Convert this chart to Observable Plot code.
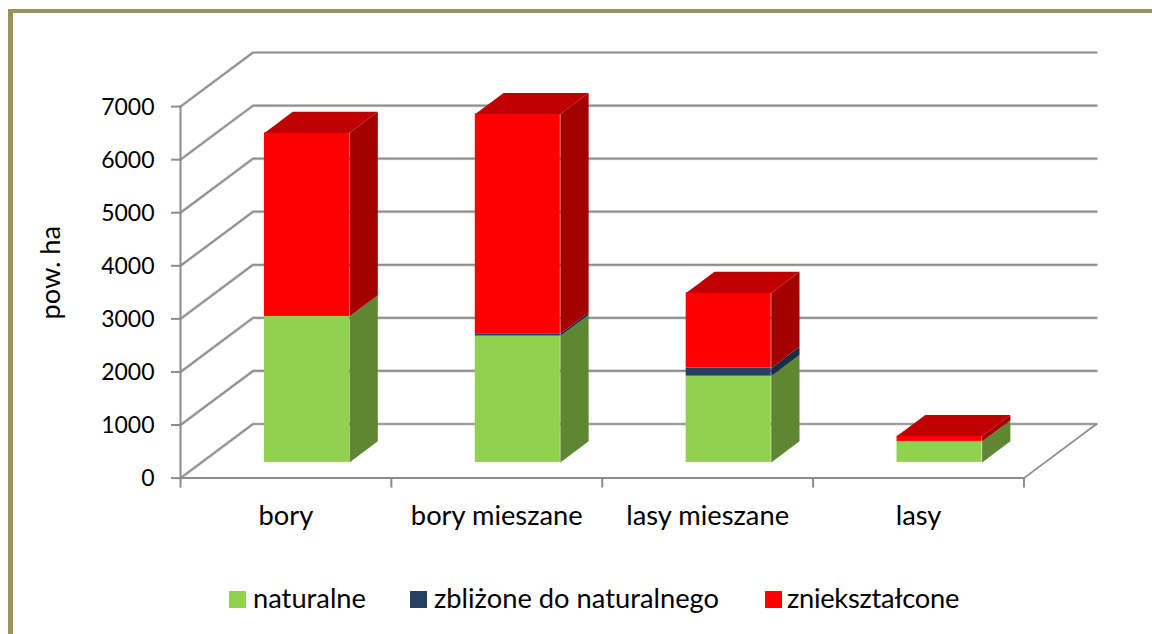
<!DOCTYPE html>
<html><head><meta charset="utf-8">
<script src="https://cdn.jsdelivr.net/npm/d3@7"></script>
<script src="https://cdn.jsdelivr.net/npm/@observablehq/plot@0.6"></script>
<style>
html,body{margin:0;padding:0;background:#fff;width:1152px;height:634px;overflow:hidden}
#frame{position:absolute;left:8px;top:9px;right:0;bottom:0;border-left:5px solid #9b9259;border-top:4px solid #9b9259}
#chart{position:absolute;left:0;top:0}
#legend{position:absolute;left:229px;top:581px;font:27.3px "Lato",sans-serif;color:#000;white-space:nowrap;height:34px;width:760px}
#legend .sw{position:absolute;top:10px;width:17px;height:17px}
#legend .tx{position:absolute;top:0;line-height:34px}
text{font-family:"Lato",sans-serif}
</style></head><body>
<div id="frame"></div><div id="chart"></div><div id="legend"></div>
<script>
const categories = ["bory", "bory mieszane", "lasy mieszane", "lasy"];
const seriesNames = ["naturalne", "zbliżone do naturalnego", "zniekształcone"];
const naturalne = [2750, 2380, 1625, 390];
const zblizone  = [0, 45, 155, 6];
const znieksztalcone = [3458, 4140, 1414, 100];
const yTicks = [0, 1000, 2000, 3000, 4000, 5000, 6000, 7000];
const frontColors = ["#92d050", "#254061", "#ff0000"];
const sideColors  = ["#5f8733", "#1a2d46", "#a30000"];
const topColor = "#c00000";

// oblique projection: how far one full chart depth shifts, in scale units
const depthX = 0.344, depthY = 1019;
const barFront = 0.29, barDepth = 0.39, halfW = 0.2017;
const px = (i, side, d) => i + 0.5 + side * halfW + d * depthX;
const py = (v, d) => v + d * depthY;

const values = [naturalne, zblizone, znieksztalcone];
const segs = [];
categories.forEach((c, i) => {
  let base = 0;
  values.forEach((arr, s) => {
    segs.push({i, s, lo: base, hi: base + arr[i]});
    base += arr[i];
  });
});

const grid = yTicks.flatMap(v => [
  {v, x: 0, y: v},
  {v, x: depthX, y: py(v, 1)},
  {v, x: 4 + depthX, y: py(v, 1)}
]);
const floorEdge = [{x: 4, y: 0}, {x: 4 + depthX, y: depthY}];
const frontLeft = [{x: 0, y: 0}, {x: 0, y: 7000}];
const frontBottom = [{x: 0, y: 0}, {x: 4, y: 0}];

const gridColor = "#8c8c8c";
const marks = [
  Plot.line(grid, {x: "x", y: "y", z: "v", stroke: "#d4d4d4", strokeWidth: 3.2}),
  Plot.line(grid, {x: "x", y: "y", z: "v", stroke: gridColor, strokeWidth: 1.7}),
  Plot.line(floorEdge, {x: "x", y: "y", stroke: gridColor, strokeWidth: 1.7}),
  Plot.line(frontLeft, {x: "x", y: "y", stroke: gridColor, strokeWidth: 2}),
  Plot.line(frontBottom, {x: "x", y: "y", stroke: gridColor, strokeWidth: 2})
];

const facePoly = [];
segs.forEach(g => {
  const id = g.i + "-" + g.s;
  facePoly.push(
    {id, s: g.s, x: px(g.i, 1, barFront), y: py(g.lo, barFront)},
    {id, s: g.s, x: px(g.i, 1, barFront + barDepth), y: py(g.lo, barFront + barDepth)},
    {id, s: g.s, x: px(g.i, 1, barFront + barDepth), y: py(g.hi, barFront + barDepth)},
    {id, s: g.s, x: px(g.i, 1, barFront), y: py(g.hi, barFront)}
  );
});
const topPoly = segs.filter(g => g.s === 2).flatMap(g => [
  {id: g.i, x: px(g.i, -1, barFront), y: py(g.hi, barFront)},
  {id: g.i, x: px(g.i, -1, barFront + barDepth), y: py(g.hi, barFront + barDepth)},
  {id: g.i, x: px(g.i, 1, barFront + barDepth), y: py(g.hi, barFront + barDepth)},
  {id: g.i, x: px(g.i, 1, barFront), y: py(g.hi, barFront)}
]);

seriesNames.forEach((n, s) => {
  marks.push(Plot.line(facePoly.filter(d => d.s === s), {x: "x", y: "y", z: "id", fill: sideColors[s], stroke: "none"}));
  marks.push(Plot.rect(segs.filter(g => g.s === s), {
    x1: g => px(g.i, -1, barFront), x2: g => px(g.i, 1, barFront),
    y1: g => py(g.lo, barFront), y2: g => py(g.hi, barFront),
    fill: frontColors[s]
  }));
});
marks.push(Plot.line(topPoly, {x: "x", y: "y", z: "id", fill: topColor, stroke: "none"}));

marks.push(
  Plot.text(yTicks, {x: () => 0, y: d => d, text: d => String(d), textAnchor: "end", dx: -26, dy: 1, fontSize: 23, fill: "#000"}),
  Plot.text(categories, {x: (d, i) => i + 0.5, y: () => 0, text: d => d, dy: 38, fontSize: 27.3, fill: "#000"}),
  Plot.text(["pow. ha"], {x: () => 0, y: () => 3870, text: d => d, dx: -129, rotate: -90, fontSize: 27.3, fill: "#000"}),
  Plot.axisY(yTicks, {tickSize: 9, tickFormat: () => "", stroke: gridColor, strokeWidth: 2, label: null, anchor: "left"}),
  Plot.axisX([0, 1, 2, 3, 4], {tickSize: 10, tickFormat: () => "", stroke: gridColor, strokeWidth: 2, label: null, anchor: "bottom"})
);

const chart = Plot.plot({
  width: 1152, height: 580,
  marginLeft: 180, marginRight: 56, marginTop: 52, marginBottom: 102.4,
  style: {background: "transparent", overflow: "visible"},
  x: {domain: [0, 4 + depthX], axis: null},
  y: {domain: [0, 7000 + depthY], axis: null},
  marks
});
document.getElementById("chart").append(chart);

const legend = document.getElementById("legend");
const swatchAt = [0, 181, 536], textAt = [24, 205, 558];
seriesNames.forEach((n, s) => {
  const sw = document.createElement("span"); sw.className = "sw"; sw.style.background = frontColors[s]; sw.style.left = swatchAt[s] + "px";
  const t = document.createElement("span"); t.className = "tx"; t.textContent = n; t.style.left = textAt[s] + "px";
  if (s === 2) t.style.letterSpacing = "-0.3px";
  legend.append(sw, t);
});
</script></body></html>
